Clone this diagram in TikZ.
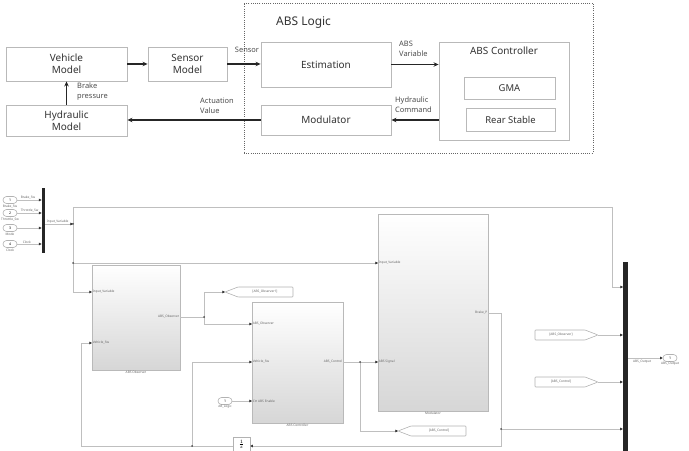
\documentclass[tikz,border=0pt]{standalone}
\usepackage{fontspec}
\setmainfont{Noto Sans}
\usetikzlibrary{arrows.meta,shadows}

\begin{document}
\begin{tikzpicture}[x=1bp,y=-1bp,
  box/.style={draw=gray!55,line width=0.9bp,fill=white,align=center,
    font=\fontsize{10}{12}\selectfont,inner sep=0pt,text=black!80},
  flow/.style={line width=1.6bp,black!85,-{Stealth[length=5bp,width=4.5bp]}},
  note/.style={font=\fontsize{7.5}{9.5}\selectfont,align=left,text=black!70,inner sep=0pt},
  wire/.style={draw=gray!50,line width=0.6bp},
  sig/.style={wire,-{Triangle[length=2.6bp,width=2.6bp,color=black!80]}},
  tiny/.style={font=\fontsize{3.2}{3.8}\selectfont,text=black!60,inner sep=0.6bp},
  sblock/.style={draw=gray!55,line width=0.6bp,top color=white,bottom color=gray!32,
    drop shadow={shadow xshift=1.4bp,shadow yshift=-1.4bp,opacity=1,fill=gray!65},inner sep=0pt},
  inport/.style={draw=gray!60,fill=white,rounded corners=3.5bp,line width=0.6bp,
    minimum width=14bp,minimum height=7bp,inner sep=0pt,font=\fontsize{3.5}{4}\selectfont},
  busbar/.style={fill=black!85,draw=none,inner sep=0pt},
  tag/.style={draw=gray!60,fill=white,line width=0.6bp,rounded corners=0.8bp},
  dot/.style={fill=black!70}
]
\useasboundingbox (0,0) rectangle (689,451);

% ================= upper block diagram =================
\node[draw=black!60,line width=0.6bp,dash pattern=on 1bp off 1.2bp,
  minimum width=349bp,minimum height=150bp,inner sep=0pt] (logic) at (418.5,78) {};
\node[anchor=west,font=\fontsize{12}{14}\selectfont,text=black!80,inner sep=0pt] (logictitle) at (276,23) {ABS Logic};

\node[box,minimum width=121bp,minimum height=34bp] (veh) at (66.5,64) {Vehicle\\Model};
\node[box,minimum width=79bp,minimum height=34bp] (sen) at (187.5,64) {Sensor\\Model};
\node[box,minimum width=121bp,minimum height=31bp] (hyd) at (66.5,120.5) {Hydraulic\\Model};
\node[box,minimum width=130bp,minimum height=45bp] (est) at (326,64.5) {Estimation};
\node[box,minimum width=130bp,minimum height=30bp] (mod) at (326,120) {Modulator};
\node[box,minimum width=130bp,minimum height=98bp] (ctrl) at (504,91) {};
\node[inner sep=0pt,font=\fontsize{10}{12}\selectfont,text=black!80] (ctrltitle) at (504,51) {ABS Controller};
\node[box,minimum width=91bp,minimum height=22bp,font=\fontsize{9.5}{11}\selectfont] (gma) at (509.5,88) {GMA};
\node[box,minimum width=89bp,minimum height=23bp,font=\fontsize{9.5}{11}\selectfont] (rear) at (510.5,119.5) {Rear Stable};

\draw[flow] (veh.east) -- (sen.west);
\draw[flow] (sen.east) -- (sen.east -| est.west);
\draw[flow] (est.east) -- (est.east -| ctrl.west);
\draw[flow] (mod.east -| ctrl.west) -- (mod.east);
\draw[flow] (mod.west) -- (mod.west -| hyd.east);
\draw[flow] (hyd.north) -- (veh.south);

\node[note] (lsen) at (247,50) {Sensor};
\node[note,anchor=north west] (lvar) at (399,41) {ABS\\Variable};
\node[note,anchor=north west] (lcmd) at (395,97) {Hydraulic\\Command};
\node[note,anchor=north west] (lact) at (200,98) {Actuation\\Value};
\node[note,anchor=north west] (lbrk) at (77,83) {Brake\\pressure};

% ================= lower Simulink model =================
% input ports and bus creator
\foreach \i/\y in {1/200,2/213,3/228,4/244}
  \node[inport] (in\i) at (10,\y) {\i};
\node[busbar,minimum width=3.5bp,minimum height=65bp] (busL) at (43.5,220.5) {};
\foreach \i in {1,...,4}
  \draw[sig] (in\i.east) -- (in\i.east -| busL.west);
\node[tiny,anchor=north] at (in1.south) {Brake\_Sw};
\node[tiny,anchor=north] at (in2.south) {Throttle\_Sw};
\node[tiny,anchor=north] at (in3.south) {Mode};
\node[tiny,anchor=north] at (in4.south) {Clock};
\node[tiny,anchor=south west] at (20,200) {Brake\_Sw};
\node[tiny,anchor=south west] at (20,213) {Throttle\_Sw};
\node[tiny,anchor=south west] at (22,244) {Clock};

% subsystem blocks
\node[sblock,minimum width=88bp,minimum height=105bp] (obs) at (136,317.5) {};
\node[sblock,minimum width=91bp,minimum height=121bp] (ctl) at (297.5,362.5) {};
\node[sblock,minimum width=110bp,minimum height=197bp] (modb) at (433,312.5) {};
\node[tiny,anchor=north] at (obs.south) {ABS Observer};
\node[tiny,anchor=north] at (ctl.south) {ABS Controller};
\node[tiny,anchor=north] at (modb.south) {Modulator};

% port positions
\coordinate (obsIn1) at (92,292);
\coordinate (obsIn2) at (92,343);
\coordinate (obsOut) at (180,317);
\coordinate (ctlIn1) at (252,324);
\coordinate (ctlIn2) at (252,362);
\coordinate (ctlIn3) at (252,401);
\coordinate (ctlOut) at (343,362);
\coordinate (modIn1) at (378,263);
\coordinate (modIn2) at (378,362);
\coordinate (modOut) at (488,313);

\node[tiny,anchor=west] at (obsIn1) {Input\_Variable};
\node[tiny,anchor=west] at (obsIn2) {Vehicle\_Sw};
\node[tiny,anchor=east] at (obsOut) {ABS\_Observer};
\node[tiny,anchor=west] at (ctlIn1) {ABS\_Observer};
\node[tiny,anchor=west] at (ctlIn2) {Vehicle\_Sw};
\node[tiny,anchor=west] at (ctlIn3) {Ctr ABS Enable};
\node[tiny,anchor=east] at (ctlOut) {ABS\_Control};
\node[tiny,anchor=west] at (modIn1) {Input\_Variable};
\node[tiny,anchor=west] at (modIn2) {ABS Signal};
\node[tiny,anchor=east] at (modOut) {Brake\_P};

% output bus and port
\node[busbar,minimum width=5bp,minimum height=189bp] (busR) at (625.5,356.5) {};
\node[inport] (outp) at (670,358) {1};
\node[tiny,anchor=north] at (outp.south) {ABS\_Output};
\draw[sig] (busR.east |- outp) -- (outp.west);
\node[tiny,anchor=north] at (642,359) {ABS\_Output};

% junctions and bends
\coordinate (jbus) at (73,224);
\coordinate (jmid) at (73,263);
\coordinate (cTop) at (73,207);
\coordinate (cTurn) at (612,207);
\coordinate (busIn1) at (623,287);
\coordinate (jobs) at (204,317);
\coordinate (jc) at (360,362);
\coordinate (jm) at (501,429);
\coordinate (jfb) at (192,446);
\coordinate (cFb) at (81,446);
\coordinate (cLow) at (501,446);

% bus signal distribution
\draw[sig] (busL.east |- jbus) -- (jbus);
\node[tiny,anchor=south west] at (46,224) {Input\_Variable};
\draw[wire] (jbus) -- (cTop);
\draw[sig] (cTop) -- (cTurn) |- (busIn1);
\draw[sig] (jbus) |- (obsIn1);
\draw[sig] (jmid) -- (modIn1);

% observer output, goto tag and controller input
\draw[wire] (obsOut) -- (jobs);
\coordinate (gotoObs) at (225,292);
\draw[tag] (gotoObs) -- ++(13,-5) -- ++(55,0) -- ++(0,10) -- ++(-55,0) -- cycle;
\node[tiny] at (265,292) {[ABS\_Observer1]};
\draw[sig] (jobs) |- (gotoObs);
\draw[sig] (jobs) |- (ctlIn1);

% controller enable input
\node[inport] (abl) at (225,401) {1};
\node[tiny,anchor=north] at (abl.south) {AB\_Logic};
\draw[sig] (abl.east) -- (ctlIn3);

% controller output to modulator and goto tag
\draw[sig] (ctlOut) -- (modIn2);
\coordinate (gotoCtl) at (398,431);
\draw[tag] (gotoCtl) -- ++(13,-5) -- ++(55,0) -- ++(0,10) -- ++(-55,0) -- cycle;
\node[tiny] at (439,431) {[ABS\_Control]};
\draw[sig] (jc) |- (gotoCtl);

% from tags feeding the output bus
\coordinate (fromObs) at (598,335);
\coordinate (fromCtl) at (598,382);
\draw[tag] (fromObs) -- ++(-13,-5) -- ++(-50,0) -- ++(0,10) -- ++(50,0) -- cycle;
\draw[tag] (fromCtl) -- ++(-13,-5) -- ++(-50,0) -- ++(0,10) -- ++(50,0) -- cycle;
\node[tiny] at (561,335) {[ABS\_Observer]};
\node[tiny] at (561,382) {[ABS\_Control]};
\draw[sig] (fromObs) -- (fromObs -| busR.west);
\draw[sig] (fromCtl) -- (fromCtl -| busR.west);

% modulator output, bus and unit delay feedback
\node[draw=gray!60,fill=white,line width=0.6bp,minimum width=17bp,minimum height=15bp,
  inner sep=0pt,font=\fontsize{6}{6}\selectfont] (delay) at (241.5,444.5) {$\frac{1}{z}$};
\draw[wire] (modOut) -| (jm);
\draw[sig] (jm) -- (jm -| busR.west);
\draw[sig] (jm) -- (cLow) -- (delay.east |- cLow);
\draw[sig] (delay.west |- cFb) -- (cFb) |- (obsIn2);
\draw[sig] (jfb) |- (ctlIn2);

% junction dots
\foreach \p in {jbus,jmid,jobs,jc,jm,jfb}
  \fill[dot] (\p) circle (1bp);
\end{tikzpicture}
\end{document}
